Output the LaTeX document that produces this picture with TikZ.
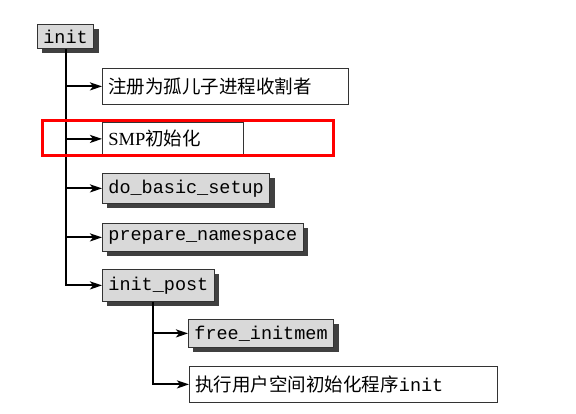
\documentclass[tikz,border=0pt]{standalone}
\usepackage{fontspec}
\setmainfont{Liberation Serif}
\setmonofont{Liberation Mono}
\newfontfamily\cjk{Noto Sans CJK SC}
\usetikzlibrary{positioning,arrows,arrows.meta,shadows}
\tikzset{
fn/.style={draw=black!80, line width=0.8pt, fill=black!15, anchor=north west,
    inner xsep=6pt, inner ysep=0pt, minimum height=30pt,
    font=\fontsize{18.5}{20}\selectfont\ttfamily,
    drop shadow={shadow xshift=5pt, shadow yshift=-5pt, fill=black!75, opacity=1}},
step box/.style={draw=black!80, line width=0.8pt, fill=white, anchor=north west,
    inner xsep=6pt, inner ysep=0pt, minimum height=36pt, align=left,
    font=\fontsize{18.5}{20}\selectfont\cjk},
link/.style={->, line width=2pt}
}
\begin{document}
\begin{tikzpicture}[>={Stealth[length=12pt,width=8pt,inset=3pt]}, x=1pt, y=-1pt]
\useasboundingbox (0,0) rectangle (576,414);
\fill[white] (0,0) rectangle (576,414);

\node[fn, minimum height=24pt] (init) at (37,24) {init};
\node[step box, text width=234pt] (reg) at (102,68) {注册为孤儿子进程收割者};
\node[step box, text width=129pt, minimum height=33pt] (smp) at (102,122) {{\rmfamily SMP}初始化};
\node[fn] (basic) at (102,173) {do\_basic\_setup};
\node[fn, minimum height=28pt] (prep) at (102,223) {prepare\_namespace};
\node[fn, minimum height=32pt] (post) at (102,269) {init\_post};
\node[fn, minimum height=28pt] (free) at (188,319) {free\_initmem};
\node[step box, text width=296pt] (exec) at (189,366) {执行用户空间初始化程序{\ttfamily init}};

% tree under init
\draw[link] (init.south) |- (reg.west);
\draw[link] (init.south |- smp.west) -- (smp.west);
\draw[link] (init.south |- basic.west) -- (basic.west);
\draw[link] (init.south |- prep.west) -- (prep.west);
\draw[link] (init.south) |- (post.west);

% tree under init_post
\coordinate (postfoot) at ([xshift=-5pt]post.south);
\draw[link] (postfoot) |- (free.west);
\draw[link] (postfoot) |- (exec.west);

% highlight
\draw[red, line width=3pt] (42,121) rectangle (333,156);
\end{tikzpicture}
\end{document}
